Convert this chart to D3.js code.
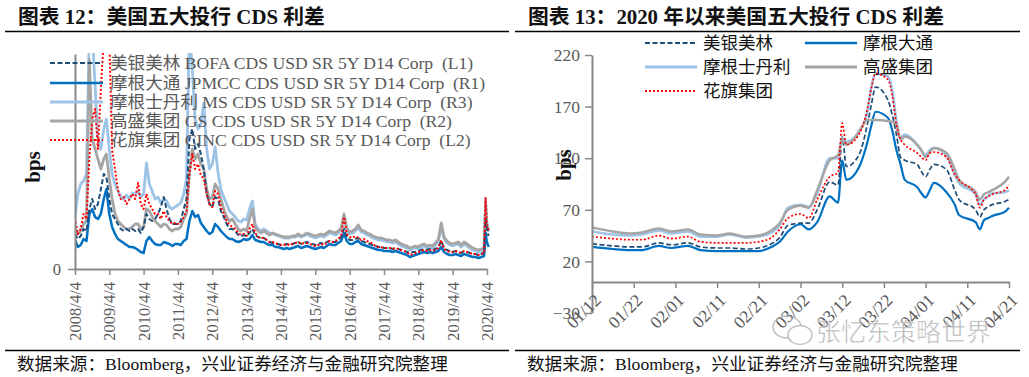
<!DOCTYPE html>
<html>
<head>
<meta charset="utf-8">
<script src="https://cdn.jsdelivr.net/npm/d3@7"></script>
<style>
  body { margin: 0; background: #fff; }
  svg text { font-family: "Liberation Serif", "Noto Sans CJK SC", serif; }
</style>
</head>
<body>
<script>
// ---- data: left chart (monthly, 2008/4 - 2020/4, bps) ----
const leftTicks = ["2008/4/4","2009/4/4","2010/4/4","2011/4/4","2012/4/4","2013/4/4","2014/4/4",
  "2015/4/4","2016/4/4","2017/4/4","2018/4/4","2019/4/4","2020/4/4"];
const leftLegend = [
  "美银美林 BOFA CDS USD SR 5Y D14 Corp  (L1)",
  "摩根大通 JPMCC CDS USD SR 5Y D14 Corp  (R1)",
  "摩根士丹利 MS CDS USD SR 5Y D14 Corp  (R3)",
  "高盛集团 GS CDS USD SR 5Y D14 Corp  (R2)",
  "花旗集团 CINC CDS USD SR 5Y D14 Corp  (L2)"
];
// one point per month on the 4th, then three extra points for the 2020 spike
const leftDates = d3.range(144).map(i => new Date(2008, 3 + i, 4))
  .concat([new Date(2020, 2, 20), new Date(2020, 3, 1), new Date(2020, 3, 20)]);

const bofaL = [105,90,99,120,114,180,210,180,195,
  240,285,276,210,165,150,135,120,114,120,114,120,
  114,120,108,126,165,150,144,150,165,186,216,180,
  150,135,135,135,144,180,210,390,420,360,375,345,
  300,225,195,186,216,210,174,156,135,120,120,114,
  102,99,102,99,108,120,102,96,93,93,87,81,
  78,75,75,72,72,75,72,75,78,81,75,78,
  81,78,75,72,75,78,75,81,84,81,81,87,
  96,120,96,87,87,90,93,84,81,78,75,72,
  69,66,66,63,63,63,60,63,60,57,54,51,
  48,51,51,54,57,60,57,60,57,60,66,84,
  63,57,54,51,54,51,48,54,51,48,45,45,
  42,45,48,150,126,99];
const jpmL = [87,66,72,90,84,165,180,156,150,
  165,210,240,165,126,105,90,84,78,72,66,66,
  63,57,51,48,84,96,84,75,72,72,81,78,
  75,69,75,75,72,84,90,144,174,156,162,138,
  126,114,105,111,135,126,114,105,96,90,90,84,
  81,84,90,87,90,102,87,84,81,81,75,72,
  72,66,66,63,60,63,60,63,66,69,63,66,
  69,66,63,60,63,66,63,69,75,72,72,78,
  84,108,84,75,75,81,84,75,72,69,66,63,
  60,57,57,54,54,54,51,54,51,48,45,42,
  36,39,42,45,48,51,48,51,48,51,54,66,
  51,45,42,42,45,42,39,45,42,39,36,36,
  33,36,39,108,84,66];
const msL = [156,225,255,264,285,720,720,546,390,
  360,420,450,360,285,255,234,216,210,222,210,228,
  225,234,216,225,318,255,234,210,216,198,210,204,
  186,180,186,192,198,225,270,720,600,450,420,435,
  498,360,300,315,366,288,240,216,195,174,165,156,
  144,141,150,147,180,204,135,120,114,120,114,108,
  105,102,99,96,93,93,93,96,96,102,96,99,
  105,99,96,93,96,99,96,102,108,105,102,108,
  117,159,117,105,108,114,123,111,108,102,99,93,
  90,87,87,84,81,81,78,81,75,69,66,63,
  57,60,63,60,66,69,63,66,63,72,84,126,
  90,78,72,69,72,75,66,75,69,63,57,54,
  51,54,57,210,144,111];
const gsL = [120,105,114,135,144,627,390,360,330,
  300,330,345,270,210,165,144,135,126,120,120,126,
  135,135,120,126,180,174,156,144,135,126,135,132,
  120,114,120,120,126,150,165,285,360,330,345,315,
  300,240,210,216,255,240,210,180,156,144,150,135,
  120,114,120,114,150,180,126,114,108,114,108,102,
  108,105,102,99,96,96,96,99,99,105,99,102,
  108,105,102,99,102,105,102,108,114,111,108,114,
  123,165,123,111,114,120,132,117,114,108,105,99,
  96,93,93,90,87,87,84,87,81,75,72,69,
  63,66,69,66,72,75,69,72,69,78,90,138,
  96,84,78,75,78,81,72,81,75,69,63,60,
  57,60,63,198,135,114];
const citiL = [153,105,120,165,150,330,450,480,360,
  540,690,780,690,357,300,237,210,216,195,210,225,
  210,258,195,180,225,195,180,165,165,150,174,156,
  144,135,138,135,141,156,174,285,345,300,315,282,
  270,225,195,186,234,225,186,165,144,132,126,120,
  108,102,105,99,120,135,108,96,93,93,87,81,
  81,78,75,72,72,75,72,75,78,81,75,78,
  78,75,72,69,72,75,72,78,84,81,84,90,
  99,156,105,96,93,99,93,87,90,84,81,75,
  69,66,66,63,63,63,60,63,60,57,54,51,
  42,45,48,51,54,57,54,57,54,57,63,87,
  60,54,51,51,54,51,48,54,51,48,45,45,
  42,45,48,213,135,117];

// ---- data: right chart (2020, bps) ----
const rightDates = ["01/12","01/17","01/21","01/24","01/28","01/31","02/04","02/07","02/11","02/14",
  "02/18","02/21","02/24","02/26","02/28","03/02","03/04","03/06","03/09","03/11",
  "03/12","03/13","03/16","03/18","03/19","03/20","03/23","03/24","03/25","03/26",
  "03/27","03/30","03/31","04/01","04/02","04/03","04/06","04/08","04/09","04/13",
  "04/14","04/15","04/16","04/17","04/20","04/21"];
const rightTicks = ["01/12","01/22","02/01","02/11","02/21","03/02","03/12","03/22","04/01","04/11","04/21"];
const rightYTicks = [-30, 20, 70, 120, 170, 220];
const bofaR = [37,35,34,34,38,36,38,34,33,33,32,33,37,43,55,57,57,70,97,94,
  141,112,123,152,172,189,176,162,143,121,118,114,107,102,109,114,109,89,80,70,
  63,70,73,75,78,80];
const jpmR = [34,32,31,31,35,33,35,31,30,30,30,30,34,39,49,56,51,58,83,77,
  118,99,111,135,152,165,159,147,128,114,99,92,86,82,89,96,87,75,65,58,
  51,60,62,64,68,72];
const msR = [49,46,45,46,50,47,49,44,44,46,43,44,48,55,72,75,73,86,120,120,
  140,136,146,164,189,202,199,186,157,140,143,133,127,123,128,130,123,104,96,85,
  75,80,83,86,87,89];
const gsR = [53,49,47,48,52,49,51,46,45,47,44,45,50,57,70,74,72,89,118,123,
  138,133,145,157,157,157,156,155,153,138,141,133,128,121,126,130,125,109,99,87,
  80,85,87,89,97,102];
const citiR = [44,42,41,41,45,42,44,39,38,38,38,39,43,51,62,66,62,80,102,106,
  154,133,143,167,188,202,196,181,152,138,133,125,121,118,125,126,121,104,99,85,
  72,80,83,85,89,94];
const rightNames = ["美银美林","摩根大通","摩根士丹利","高盛集团","花旗集团"];

// line styles, same order as the names
const styles = [
  { color: "#1F4E79", width: 2, dash: "5,2.5" },
  { color: "#0070C0", width: 2.5, dash: null },
  { color: "#9DC3E6", width: 2.8, dash: null },
  { color: "#A5A5A5", width: 2.8, dash: null },
  { color: "#FF0000", width: 2, dash: "2,2" }
];

const W = 1029, H = 377;
const axisColor = "#888";
const textColor = "#595959";

const svg = d3.select("body").append("svg").attr("width", W).attr("height", H);
svg.append("rect").attr("width", W).attr("height", H).attr("fill", "#fff");

// titles, rules, sources
const titles = [
  { x: 18, text: "图表 12：美国五大投行 CDS 利差", x1: 5, x2: 509 },
  { x: 528, text: "图表 13：2020 年以来美国五大投行 CDS 利差", x1: 515, x2: 1020 }
];
titles.forEach(t => {
  svg.append("text").attr("x", t.x).attr("y", 24).text(t.text)
    .attr("font-size", 20.8).attr("font-weight", "bold").attr("fill", "#111");
  svg.append("line").attr("x1", t.x1).attr("x2", t.x2).attr("y1", 31.5).attr("y2", 31.5)
    .attr("stroke", "#000").attr("stroke-width", 1.5);
  svg.append("line").attr("x1", t.x1).attr("x2", t.x2).attr("y1", 350.5).attr("y2", 350.5)
    .attr("stroke", "#000").attr("stroke-width", 1.5);
  svg.append("text").attr("x", t.x - 1).attr("y", 370)
    .text("数据来源：Bloomberg，兴业证券经济与金融研究院整理")
    .attr("font-size", 17.6).attr("fill", "#111");
});

// ---------- left chart ----------
const L = { left: 75, right: 487, top: 54, bottom: 269 };
const xL = d3.scaleTime()
  .domain([new Date(2008, 3, 4), new Date(2020, 3, 4)])
  .range([L.left, L.right]);
const yL = d3.scaleLinear().domain([0, 645]).range([L.bottom, L.top]);

svg.append("clipPath").attr("id", "clipL").append("rect")
  .attr("x", L.left).attr("y", L.top - 1).attr("width", 430).attr("height", L.bottom - L.top + 1);

const lineL = d3.line().x((d, i) => xL(leftDates[i])).y(d => yL(d));
const leftSeries = [bofaL, jpmL, msL, gsL, citiL];
const leftOrder = [2, 3, 1, 0, 4];
const gL = svg.append("g").attr("clip-path", "url(#clipL)");
leftOrder.forEach(k => {
  gL.append("path").datum(leftSeries[k]).attr("d", lineL)
    .attr("fill", "none").attr("stroke", styles[k].color)
    .attr("stroke-width", styles[k].width)
    .attr("stroke-dasharray", styles[k].dash)
    .attr("stroke-linejoin", "round");
});

// left axes
const xAxisL = d3.axisBottom(xL)
  .tickValues(leftTicks.map(s => { const p = s.split("/"); return new Date(+p[0], +p[1] - 1, +p[2]); }))
  .tickFormat((d, i) => leftTicks[i]).tickSize(6).tickSizeOuter(0);
const gxL = svg.append("g").attr("transform", `translate(0,${L.bottom})`).call(xAxisL);
gxL.select(".domain").attr("stroke", axisColor).attr("stroke-width", 2);
gxL.selectAll(".tick line").attr("stroke", axisColor).attr("stroke-width", 1.5);
gxL.selectAll(".tick text")
  .attr("font-size", 16.5).attr("fill", textColor)
  .attr("text-anchor", "end")
  .attr("transform", "rotate(-90)")
  .attr("x", -13).attr("y", 0).attr("dy", "0.33em");

const yAxisL = d3.axisLeft(yL).tickValues([0]).tickSize(7).tickSizeOuter(0);
const gyL = svg.append("g").attr("transform", `translate(${L.left},0)`).call(yAxisL);
gyL.select(".domain").attr("stroke", axisColor).attr("stroke-width", 2);
gyL.selectAll(".tick line").attr("stroke", axisColor).attr("stroke-width", 1.5);
gyL.selectAll(".tick text").attr("font-size", 16.5).attr("fill", textColor).attr("x", -14);

svg.append("text").attr("transform", "translate(40,167) rotate(-90)")
  .attr("text-anchor", "middle").attr("font-size", 21).attr("font-weight", "bold")
  .attr("fill", "#111").text("bps");

// left legend
const legRowsL = [63, 83, 102, 121, 140];
leftLegend.forEach((txt, k) => {
  const y = legRowsL[k];
  svg.append("line").attr("x1", 50).attr("x2", 103).attr("y1", y).attr("y2", y)
    .attr("stroke", styles[k].color).attr("stroke-width", styles[k].width)
    .attr("stroke-dasharray", styles[k].dash);
  svg.append("text").attr("x", 110).attr("y", y + 6).text(txt)
    .attr("font-size", 17.6).attr("fill", textColor).style("white-space", "pre");
});

// ---------- right chart ----------
const R = { left: 592, right: 1009, top: 55, bottom: 313 };
const parseR = s => { const p = s.split("/"); return new Date(2020, +p[0] - 1, +p[1]); };
const xR = d3.scaleTime().domain([parseR("01/12"), parseR("04/21")]).range([R.left, R.right]);
const yR = d3.scaleLinear().domain([-30, 220]).range([R.bottom, R.top]);

const rightSeries = [bofaR, jpmR, msR, gsR, citiR];
const lineR = d3.line().x((d, i) => xR(parseR(rightDates[i]))).y(d => yR(d))
  .curve(d3.curveMonotoneX);
const rightOrder = [1, 0, 2, 3, 4];
rightOrder.forEach(k => {
  svg.append("path").datum(rightSeries[k]).attr("d", lineR)
    .attr("fill", "none").attr("stroke", styles[k].color)
    .attr("stroke-width", styles[k].width - 0.3)
    .attr("stroke-dasharray", styles[k].dash)
    .attr("stroke-linejoin", "round");
});

const yAxisR = d3.axisLeft(yR).tickValues(rightYTicks).tickSize(7).tickSizeOuter(0);
const gyR = svg.append("g").attr("transform", `translate(${R.left},0)`).call(yAxisR);
gyR.select(".domain").attr("stroke", axisColor).attr("stroke-width", 2);
gyR.selectAll(".tick line").attr("stroke", axisColor).attr("stroke-width", 1.5);
gyR.selectAll(".tick text").attr("font-size", 17.5).attr("fill", textColor).attr("x", -12);

const xAxisR = d3.axisBottom(xR).tickValues(rightTicks.map(parseR))
  .tickFormat((d, i) => rightTicks[i]).tickSize(6).tickSizeOuter(0);
const gxR = svg.append("g").attr("transform", `translate(0,${yR(0)})`).call(xAxisR);
gxR.select(".domain").attr("stroke", axisColor).attr("stroke-width", 2);
gxR.selectAll(".tick line").attr("stroke", axisColor).attr("stroke-width", 1.5);
gxR.selectAll(".tick text")
  .attr("font-size", 17.5).attr("fill", textColor)
  .attr("text-anchor", "end")
  .attr("transform", "translate(5,15) rotate(-45)")
  .attr("x", 0).attr("y", 0).attr("dy", "0.35em");

svg.append("text").attr("transform", "translate(571,165) rotate(-90)")
  .attr("text-anchor", "middle").attr("font-size", 21).attr("font-weight", "bold")
  .attr("fill", "#111").text("bps");

// right legend
const legR = [
  { k: 0, x: 645, y: 43 }, { k: 1, x: 805, y: 43 },
  { k: 2, x: 645, y: 67 }, { k: 3, x: 805, y: 67 },
  { k: 4, x: 645, y: 91 }
];
legR.forEach(d => {
  svg.append("line").attr("x1", d.x).attr("x2", d.x + 52).attr("y1", d.y).attr("y2", d.y)
    .attr("stroke", styles[d.k].color).attr("stroke-width", styles[d.k].width)
    .attr("stroke-dasharray", styles[d.k].dash);
  svg.append("text").attr("x", d.x + 58).attr("y", d.y + 6).text(rightNames[d.k])
    .attr("font-size", 17.5).attr("fill", "#111");
});

// watermark
const wm = svg.append("g").attr("opacity", 0.75);
wm.append("ellipse").attr("cx", 787).attr("cy", 327).attr("rx", 14).attr("ry", 11)
  .attr("fill", "none").attr("stroke", "#aaa").attr("stroke-width", 1.5);
wm.append("ellipse").attr("cx", 800).attr("cy", 335).attr("rx", 12).attr("ry", 9.5)
  .attr("fill", "#fff").attr("stroke", "#aaa").attr("stroke-width", 1.5);
wm.append("text").attr("x", 816).attr("y", 341).text("张忆东策略世界")
  .attr("font-size", 25).attr("fill", "#999").attr("stroke", "#fff").attr("stroke-width", 0.6)
  .style("font-family", "'Noto Sans CJK SC'");
</script>
</body>
</html>
